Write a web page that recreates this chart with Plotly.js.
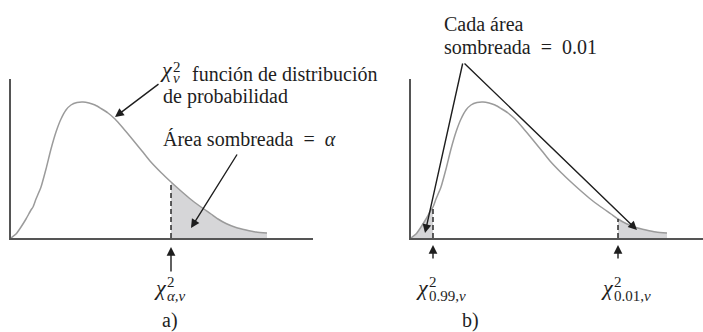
<!DOCTYPE html>
<html>
<head>
<meta charset="utf-8">
<script src="https://cdn.plot.ly/plotly-3.0.1.min.js"></script>
<style>
  body { margin: 0; background: #fff; }
  #chart { width: 703px; height: 332px; }
</style>
</head>
<body>
<div id="chart"></div>
<script>
// density curve (x = distance from origin, y = height)
var curveX = [0, 5, 10, 15, 20, 22, 25, 30, 35, 40, 45, 50, 55, 60, 66, 72, 78, 84, 90, 97, 104, 112, 122, 131, 139, 150, 160, 170, 180, 190, 200, 207, 215, 225, 235, 245, 256];
var curveY = [0, 4, 11, 19, 28, 31, 39, 51, 69, 89, 106, 119, 128, 133, 135.5, 136, 135, 133, 129.5, 125, 119, 110, 98, 87, 77, 65.5, 56, 47, 38.5, 31, 24, 19, 14.5, 10.5, 8, 6, 5];

// critical values
var critA = [160];        // chi2 alpha,nu
var critB = [22, 207];    // chi2 0.99,nu and chi2 0.01,nu

var serif = "'Liberation Serif', 'Times New Roman', serif";
var curveColor = '#9b9b9b';
var shadeColor = '#d6d6d8';
var ink = '#1e1e1e';

// panel origins on the page (px) - used for the text and arrows
var W = 703, H = 332;
var originA = 11, originB = 411, baseY = 238;

function heightAt(x) {
  return curveY[curveX.indexOf(x)];
}

function pick(test) {
  var xs = [], ys = [];
  for (var i = 0; i < curveX.length; i++) {
    if (test(curveX[i])) { xs.push(curveX[i]); ys.push(curveY[i]); }
  }
  return {x: xs, y: ys};
}

var data = [];
var spline = {shape: 'spline', smoothing: 0.6};

// panel a
var tailA = pick(function(x) { return x >= critA[0]; });
data.push({x: tailA.x, y: tailA.y, xaxis: 'x', yaxis: 'y', mode: 'lines', fill: 'tozeroy',
  fillcolor: shadeColor, line: Object.assign({width: 0}, spline)});
data.push({x: curveX, y: curveY, xaxis: 'x', yaxis: 'y', mode: 'lines',
  line: Object.assign({color: curveColor, width: 1.5}, spline)});
data.push({x: [critA[0], critA[0]], y: [0, heightAt(critA[0])], xaxis: 'x', yaxis: 'y', mode: 'lines',
  line: {color: '#2a2a2a', width: 1.5, dash: '5px,3px'}});

// panel b
var lowB = pick(function(x) { return x <= critB[0]; });
var highB = pick(function(x) { return x >= critB[1]; });
[lowB, highB].forEach(function(t) {
  data.push({x: t.x, y: t.y, xaxis: 'x2', yaxis: 'y2', mode: 'lines', fill: 'tozeroy',
    fillcolor: shadeColor, line: Object.assign({width: 0}, spline)});
});
data.push({x: curveX, y: curveY, xaxis: 'x2', yaxis: 'y2', mode: 'lines',
  line: Object.assign({color: curveColor, width: 1.5}, spline)});
critB.forEach(function(c) {
  data.push({x: [c, c], y: [0, heightAt(c)], xaxis: 'x2', yaxis: 'y2', mode: 'lines',
    line: {color: '#2a2a2a', width: 1.5, dash: '5px,3px'}});
});

// annotations in page pixels
function arrow(hx, hy, tx, ty) {
  return {xref: 'paper', yref: 'paper', x: hx / W, y: (H - hy) / H, ax: tx - hx, ay: ty - hy,
    text: '', showarrow: true, arrowhead: 2, arrowsize: 1.25, arrowwidth: 1.4, arrowcolor: ink,
    standoff: 0, startstandoff: 0};
}
function label(x, y, text, size, anchor) {
  return {xref: 'paper', yref: 'paper', x: x / W, y: (H - y) / H, text: text, showarrow: false,
    xanchor: anchor || 'left', yanchor: 'middle', font: {family: serif, size: size, color: ink}};
}
// chi with stacked superscript 2 and a subscript
function chiLabel(cx, y, sub) {
  return [
    label(cx - 2, y - 5, '<i>χ</i>', 22, 'right'),
    label(cx - 6, y - 10, '2', 15),
    label(cx - 6, y + 4, sub, 15)
  ];
}

var sp = '\u2002';
var ann = [
  // panel a
  label(175, 69, '<i>χ</i>', 22, 'right'),
  label(171, 67, '2', 15),
  label(171, 78, '<i>ν</i>', 15),
  label(190, 74, 'función de distribución', 20),
  label(161, 97, 'de probabilidad', 20),
  label(161, 139, 'Área sombreada' + sp + '=' + sp + '<i>α</i>', 20),
  arrow(115, 117, 160, 83),
  arrow(191, 228, 238, 153),
  arrow(originA + critA[0], 247, originA + critA[0], 273),
  label(originA + 159, 320, 'a)', 20, 'center'),
  // panel b
  label(442, 24, 'Cada área', 20),
  label(442, 47, 'sombreada' + sp + '=' + sp + '0.01', 20),
  arrow(425, 233, 463, 62),
  arrow(637, 230, 463, 62),
  arrow(originB + critB[0], 245, originB + critB[0], 260),
  arrow(originB + critB[1], 245, originB + critB[1], 260),
  label(originB + 59, 320, 'b)', 20, 'center')
];
ann = ann.concat(chiLabel(originA + critA[0], 292, '<i>α,ν</i>'));
ann = ann.concat(chiLabel(originB + critB[0], 292, '0.99,<i>ν</i>'));
ann = ann.concat(chiLabel(originB + critB[1], 292, '0.01,<i>ν</i>'));

var axisX = {showline: true, linecolor: '#555', linewidth: 2, showgrid: false, zeroline: false,
  showticklabels: false, ticks: ''};
var axisY = {showline: true, linecolor: '#555', linewidth: 2, showgrid: false, zeroline: false,
  showticklabels: false, ticks: '', range: [0, 159], domain: [(H - baseY) / H, (H - 79) / H]};

var layout = {
  width: W, height: H,
  margin: {l: 0, r: 0, t: 0, b: 0},
  paper_bgcolor: '#fff', plot_bgcolor: '#fff',
  showlegend: false,
  xaxis: Object.assign({}, axisX, {range: [0, 302], domain: [originA / W, 313 / W]}),
  yaxis: Object.assign({}, axisY, {anchor: 'x'}),
  xaxis2: Object.assign({}, axisX, {range: [0, 292], domain: [originB / W, 1], anchor: 'y2'}),
  yaxis2: Object.assign({}, axisY, {anchor: 'x2'}),
  annotations: ann
};

Plotly.newPlot('chart', data, layout, {staticPlot: true, displayModeBar: false});
</script>
</body>
</html>
